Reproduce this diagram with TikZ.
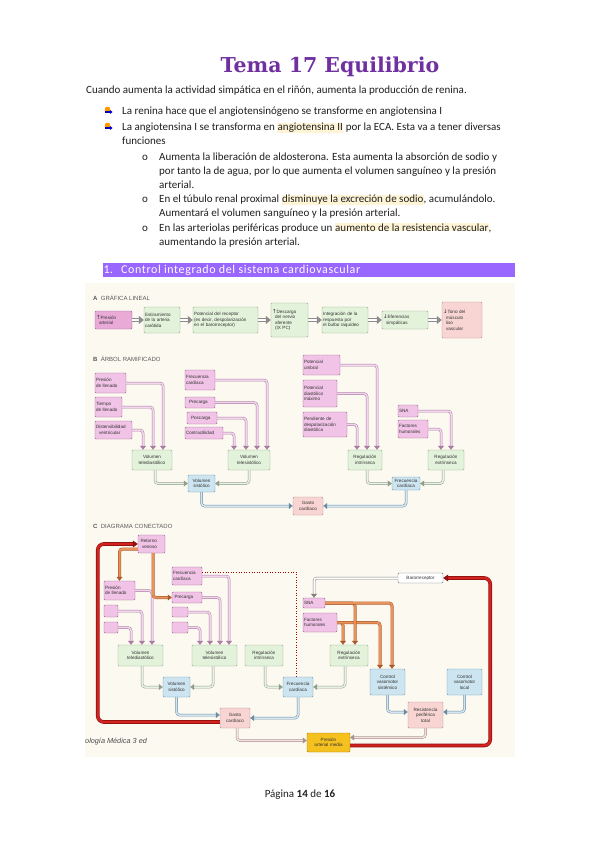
\documentclass[tikz,border=0pt]{standalone}
\usepackage{fontspec}
\setmainfont{Carlito}
\newfontfamily\figfont{Liberation Sans}
\newfontfamily\arrowfont{DejaVu Sans}
\newfontfamily\titlefont{DejaVu Serif}
\usetikzlibrary{arrows.meta,calc}
\definecolor{titlepurple}{HTML}{7030A0}
\definecolor{barpurple}{HTML}{9966FF}
\definecolor{hlyellow}{HTML}{FFF5D6}
\definecolor{figbg}{HTML}{FCF9F1}
\definecolor{pinkF}{HTML}{F1C3E6}
\definecolor{pinkD}{HTML}{9C6A92}
\definecolor{pinkA}{HTML}{E9AAD8}
\definecolor{salF}{HTML}{F8D5D3}
\definecolor{salD}{HTML}{B88C8C}
\definecolor{greenF}{HTML}{E3F2DB}
\definecolor{greenD}{HTML}{8DB088}
\definecolor{blueF}{HTML}{CCE5F0}
\definecolor{blueD}{HTML}{6F98B2}
\definecolor{yelF}{HTML}{F5C11E}
\definecolor{yelD}{HTML}{A57C1C}
\definecolor{pinkT}{HTML}{A97CA2}
\definecolor{pinkTi}{HTML}{F3D6EE}
\definecolor{greenT}{HTML}{8E9E88}
\definecolor{greenTi}{HTML}{E9F1E4}
\definecolor{blueT}{HTML}{6D8CA4}
\definecolor{blueTi}{HTML}{D3E6F1}
\definecolor{salT}{HTML}{A89090}
\definecolor{salTi}{HTML}{F3E2DE}
\definecolor{orT}{HTML}{A85A2C}
\definecolor{orTi}{HTML}{E9925C}
\definecolor{redT}{HTML}{8E1010}
\definecolor{redTi}{HTML}{D2231E}
\newcommand\hlt[1]{{\fboxsep=0.3pt\colorbox{hlyellow}{#1}}}
\newcommand\upar{{\arrowfont\fontsize{5.5}{5.5}\selectfont ↑}}
\newcommand\dnar{{\arrowfont\fontsize{5.5}{5.5}\selectfont ↓}}
\newcommand\mybox[7]{%
  \pgfmathsetmacro\myW{#5-#3}%
  \pgfmathsetmacro\myH{#6-#4}%
  \pgfmathsetmacro\myT{#5-#3-2}%
  \node[#1, minimum width=\myW pt, minimum height=\myH pt, text width=\myT pt] (#2) at ({(#3+#5)/2},{(#4+#6)/2}) {#7};}
\begin{document}
\begin{tikzpicture}[x=1pt,y=-1pt,
  bodytxt/.style={anchor=base west, inner sep=0, font=\fontsize{11}{12}\selectfont, text=black!88},
  bxbase/.style={draw, line width=0.45pt, rounded corners=1pt, inner sep=1pt, font=\figfont\fontsize{4.6}{5.5}\selectfont, text=black!80},
  pinkbx/.style={bxbase, fill=pinkF, draw=pinkD, align=left},
  pinkabx/.style={bxbase, fill=pinkA, draw=pinkD, align=left},
  salabx/.style={bxbase, fill=salF, draw=salD, align=left},
  greenabx/.style={bxbase, fill=greenF, draw=greenD, align=left},
  greenbx/.style={bxbase, fill=greenF, draw=greenD, align=center},
  bluebx/.style={bxbase, fill=blueF, draw=blueD, align=center},
  salbx/.style={bxbase, fill=salF, draw=salD, align=center},
  yelbx/.style={bxbase, fill=yelF, draw=yelD, align=center},
  whitebx/.style={bxbase, fill=white, draw=black!55, align=center},
  tube/.style={line width=0.5pt, double distance=1.5pt, rounded corners=3pt, -{Triangle[length=4pt,width=6pt]}},
  atube/.style={tube, draw=black!45, double=white, double distance=2.2pt, -{Triangle[length=5pt,width=8pt]}},
  pinktube/.style={tube, draw=pinkT, double=pinkTi},
  greentube/.style={tube, draw=greenT, double=greenTi},
  bluetube/.style={tube, draw=blueT, double=blueTi},
  saltube/.style={tube, draw=salT, double=salTi},
  graytube/.style={tube, draw=black!50, double=white},
  orangetube/.style={tube, draw=orT, double=orTi, double distance=2pt},
  redtube/.style={line width=0.6pt, double distance=2.4pt, rounded corners=6pt, draw=redT, double=redTi, -{Triangle[length=5pt,width=7pt]}},
  lbl/.style={anchor=west, inner sep=0, font=\figfont\fontsize{6}{7}\selectfont, text=black!65}
]
\useasboundingbox (0,0) rectangle (600,848);
\fill[white] (0,0) rectangle (600,848);

% ---------------- header text ----------------
\node[anchor=base, inner sep=0, font=\titlefont\bfseries\fontsize{20.5}{24}\selectfont, text=titlepurple] (title) at (330,73) {Tema 17 Equilibrio};
\node[bodytxt] (l0) at (86,93.5) {Cuando aumenta la actividad simpática en el riñón, aumenta la producción de renina.};
% bullet icons
\foreach \yy in {111,127}{
  \fill[orange!80!yellow] (105.5,\yy-4) -- (109.5,\yy-4) -- (110.5,\yy) -- (104.8,\yy) -- cycle;
  \fill[blue!75!black] (104.5,\yy+0.2) rectangle (110,\yy+1.8);
  \fill[blue!75!black] (110,\yy-1) -- (112.5,\yy+1) -- (110,\yy+3) -- cycle;
}
\node[bodytxt] (l1) at (122,115) {La renina hace que el angiotensinógeno se transforme en angiotensina I};
\node[bodytxt] (l2) at (122,130.5) {La angiotensina I se transforma en \hlt{angiotensina II} por la ECA. Esta va a tener diversas};
\node[bodytxt] (l3) at (122,144.5) {funciones};
\foreach \yy in {160,202.5,231}{\node[bodytxt] at (142,\yy) {o};}
\node[bodytxt] (s1) at (159,160) {Aumenta la liberación de aldosterona. Esta aumenta la absorción de sodio y};
\node[bodytxt] (s2) at (159,174) {por tanto la de agua, por lo que aumenta el volumen sanguíneo y la presión};
\node[bodytxt] (s3) at (159,188) {arterial.};
\node[bodytxt] (s4) at (159,202.5) {En el túbulo renal proximal \hlt{disminuye la excreción de sodio}, acumulándolo.};
\node[bodytxt] (s5) at (159,216.5) {Aumentará el volumen sanguíneo y la presión arterial.};
\node[bodytxt] (s6) at (159,231) {En las arteriolas periféricas produce un \hlt{aumento de la resistencia vascular},};
\node[bodytxt] (s7) at (159,245) {aumentando la presión arterial.};
\fill[barpurple] (103,263) rectangle (515,277);
\node[anchor=west, inner sep=0, font=\fontsize{12}{13}\selectfont, text=white] (hnum) at (103.5,270) {1.};
\node[anchor=west, inner sep=0, font=\fontsize{12}{13}\selectfont\addfontfeatures{LetterSpace=5}, text=white] (htxt) at (121,270) {Control integrado del sistema cardiovascular};
\node[anchor=base, inner sep=0, font=\fontsize{11}{12}\selectfont, text=black!88] (foot) at (300,797) {Página \textbf{14} de \textbf{16}};

% ---------------- figure ----------------
\fill[figbg] (85,283) rectangle (515,757);
\node[lbl] (la) at (93,298) {\textbf{A}\ \ GRÁFICA LINEAL};
\node[lbl] (lb) at (93,359) {\textbf{B}\ \ ÁRBOL RAMIFICADO};
\node[lbl] (lc) at (93,526) {\textbf{C}\ \ DIAGRAMA CONECTADO};
\node[anchor=base west, inner sep=0, font=\figfont\itshape\fontsize{7.3}{8}\selectfont, text=black!70] (cap) at (85,743) {ología Médica 3 ed};

% Panel A
\mybox{pinkabx}{a1}{95}{311}{132}{329}{\upar Presión\\\ \ arterial}
\mybox{greenabx}{a2}{144}{307}{180}{333}{Estiramiento\\de la arteria\\carótida}
\mybox{greenabx}{a3}{193}{307}{258}{333}{Potencial del receptor\\(es decir, despolarización\\en el barorreceptor)}
\mybox{greenabx}{a4}{271}{303}{308}{337}{\upar Descarga\\\ \ del nervio\\\ \ aferente\\\ \ (IX PC)}
\mybox{greenabx}{a5}{322}{307}{368}{333}{Integración de la\\respuesta por\\el bulbo raquídeo}
\mybox{greenabx}{a6}{382}{311}{428}{329}{\dnar Eferencias\\\ \ simpáticas}
\mybox{salabx}{a7}{442}{302}{482}{338}{\dnar Tono del\\\ \ músculo\\\ \ liso\\\ \ vascular}
\foreach \p/\q in {a1/a2,a2/a3,a3/a4,a4/a5,a5/a6,a6/a7}{\draw[atube] (\p) -- (\q);}

% Panel B
\mybox{pinkbx}{pll}{95}{373}{126}{393}{Presión\\de llenado}
\mybox{pinkbx}{tll}{95}{397}{122}{417}{Tiempo\\de llenado}
\mybox{pinkbx}{dv}{95}{421}{132}{439}{Distensibilidad\\\ \ ventricular}
\mybox{greenbx}{vtd}{132}{450}{172}{470}{Volumen\\telediastólico}
\mybox{pinkbx}{fc1}{185}{370}{215}{390}{Frecuencia\\cardíaca}
\mybox{pinkbx}{pre1}{185}{397}{215}{408}{\ \ Precarga}
\mybox{pinkbx}{pos1}{187}{412}{217}{424}{\ \ Poscarga}
\mybox{pinkbx}{con1}{185}{427}{223}{439}{Contractilidad}
\mybox{greenbx}{vts}{228}{450}{270}{470}{Volumen\\telesistólico}
\mybox{bluebx}{vs}{188}{475}{215}{492}{Volumen\\sistólico}
\mybox{salbx}{gc}{293}{497}{323}{515}{Gasto\\cardíaco}
\mybox{pinkbx}{pu}{303}{355}{340}{375}{Potencial\\umbral}
\mybox{pinkbx}{pdm}{303}{380}{337}{407}{Potencial\\diastólico\\máximo}
\mybox{pinkbx}{pdd}{303}{412}{347}{437}{Pendiente de\\despolarización\\diastólica}
\mybox{greenbx}{ri}{348}{450}{382}{470}{Regulación\\intrínseca}
\mybox{pinkbx}{sna1}{398}{405}{418}{417}{SNA}
\mybox{pinkbx}{fh1}{398}{420}{428}{438}{Factores\\humorales}
\mybox{greenbx}{re}{428}{450}{464}{470}{Regulación\\extrínseca}
\mybox{bluebx}{fc2}{392}{477}{420}{490}{Frecuencia\\cardíaca}

\draw[pinktube] (pll.east) -| ([xshift=11pt]vtd.north);
\draw[pinktube] (tll.east) -| ([xshift=1pt]vtd.north);
\draw[pinktube] (dv.east) -| ([xshift=-9pt]vtd.north);
\draw[pinktube] (fc1.east) -| ([xshift=18pt]vts.north);
\draw[pinktube] (pre1.east) -| ([xshift=8pt]vts.north);
\draw[pinktube] (pos1.east) -| ([xshift=-3pt]vts.north);
\draw[pinktube] (con1.east) -| ([xshift=-15pt]vts.north);
\draw[greentube] ([xshift=3pt]vtd.south) |- (vs.west);
\draw[greentube] (vts.south) |- (vs.east);
\draw[bluetube] (vs.south) |- (gc.west);
\draw[pinktube] (pu.east) -| ([xshift=12pt]ri.north);
\draw[pinktube] (pdm.east) -| ([xshift=2pt]ri.north);
\draw[pinktube] (pdd.east) -| ([xshift=-8pt]ri.north);
\draw[pinktube] (sna1.east) -| ([xshift=5pt]re.north);
\draw[pinktube] (fh1.east) -| ([xshift=-5pt]re.north);
\draw[greentube] ([xshift=2pt]ri.south) |- (fc2.west);
\draw[greentube] ([xshift=-3pt]re.south) |- (fc2.east);
\draw[bluetube] (fc2.south) |- (gc.east);

% Panel C
\mybox{pinkbx}{rv}{138}{535}{165}{553}{\ Retorno\\\ \ venoso}
\mybox{pinkbx}{pll2}{104}{581}{135}{600}{Presión\\de llenado}
\mybox{pinkbx}{e1}{104}{605}{118}{617}{}
\mybox{pinkbx}{e2}{104}{622}{118}{633}{}
\mybox{pinkbx}{fc3}{172}{567}{202}{585}{Frecuencia\\cardíaca}
\mybox{pinkbx}{pre2}{172}{592}{202}{603}{\ Precarga}
\mybox{pinkbx}{e3}{172}{607}{188}{617}{}
\mybox{pinkbx}{e4}{172}{622}{188}{633}{}
\mybox{greenbx}{vtd2}{118}{645}{163}{666}{Volumen\\telediastólico}
\mybox{greenbx}{vts2}{192}{645}{237}{666}{Volumen\\telesistólico}
\mybox{greenbx}{ri2}{245}{645}{283}{666}{Regulación\\intrínseca}
\mybox{greenbx}{re2}{330}{645}{368}{666}{Regulación\\extrínseca}
\mybox{bluebx}{vs2}{163}{677}{190}{697}{Volumen\\sistólico}
\mybox{bluebx}{fc4}{283}{677}{313}{697}{Frecuencia\\cardíaca}
\mybox{bluebx}{cvs}{370}{669}{405}{695}{Control\\vasomotor\\sistémico}
\mybox{bluebx}{cvl}{447}{669}{482}{695}{Control\\vasomotor\\local}
\mybox{salbx}{gc2}{220}{708}{250}{728}{Gasto\\cardíaco}
\mybox{salbx}{rpt}{408}{702}{443}{728}{Resistencia\\periférica\\total}
\mybox{yelbx}{pam}{307}{733}{350}{752}{Presión\\arterial media}
\mybox{whitebx}{bar}{398}{573}{443}{583}{Barorreceptor}
\mybox{pinkbx}{sna2}{303}{598}{325}{608}{SNA}
\mybox{pinkbx}{fh2}{303}{613}{337}{632}{Factores\\humorales}

\draw[pinktube] (pll2.east) -| ([xshift=11.5pt]vtd2.north);
\draw[pinktube] (e1.east) -| ([xshift=1.5pt]vtd2.north);
\draw[pinktube] (e2.east) -| ([xshift=-9.5pt]vtd2.north);
\draw[red!65!black, line width=0.6pt, dotted] ([yshift=4pt]fc3.east) -| ([xshift=-2pt]fc4.north);
\draw[pinktube] (fc3.east) -| ([xshift=14.5pt]vts2.north);
\draw[pinktube] (pre2.east) -| ([xshift=5.5pt]vts2.north);
\draw[pinktube] (e3.east) -| ([xshift=-4.5pt]vts2.north);
\draw[pinktube] (e4.east) -| ([xshift=-14.5pt]vts2.north);
\draw[greentube] ([xshift=1.5pt]vtd2.south) |- (vs2.west);
\draw[greentube] ([xshift=-1.5pt]vts2.south) |- (vs2.east);
\draw[greentube] ([xshift=1pt]ri2.south) |- (fc4.west);
\draw[greentube] ([xshift=-4pt]re2.south) |- (fc4.east);
\draw[bluetube] (vs2.south) |- ([yshift=3pt]gc2.west);
\draw[bluetube] (fc4.south) |- (gc2.east);
\draw[bluetube] (cvs.south) |- ([yshift=3pt]rpt.west);
\draw[bluetube] (cvl.south) |- ([yshift=3pt]rpt.east);
\draw[saltube] ([xshift=2pt]gc2.south) |- ([yshift=2pt]pam.west);
\draw[saltube] (rpt.south) |- ([yshift=5pt]pam.east);
\draw[graytube] (bar.west) -| (sna2.north);
\draw[orangetube] ([yshift=-5pt]rv.west) -| (pll2.north);
\draw[orangetube] ([xshift=1.5pt]rv.south) |- (pre2.west);
\draw[orangetube] (fh2.east) -| ([xshift=-6pt]re2.north);
\draw[orangetube] (fh2.east) -| ([xshift=-7.5pt]cvs.north);
\draw[orangetube] (sna2.east) -| ([xshift=6pt]re2.north);
\draw[orangetube] (sna2.east) -| ([xshift=4.5pt]cvs.north);
\draw[redtube] ([yshift=-4pt]gc2.west) -- ++(-122,0) |- (rv.west);
\draw[redtube] ([yshift=-3pt]pam.east) -- ++(140,0) |- (bar.east);
\end{tikzpicture}
\end{document}
